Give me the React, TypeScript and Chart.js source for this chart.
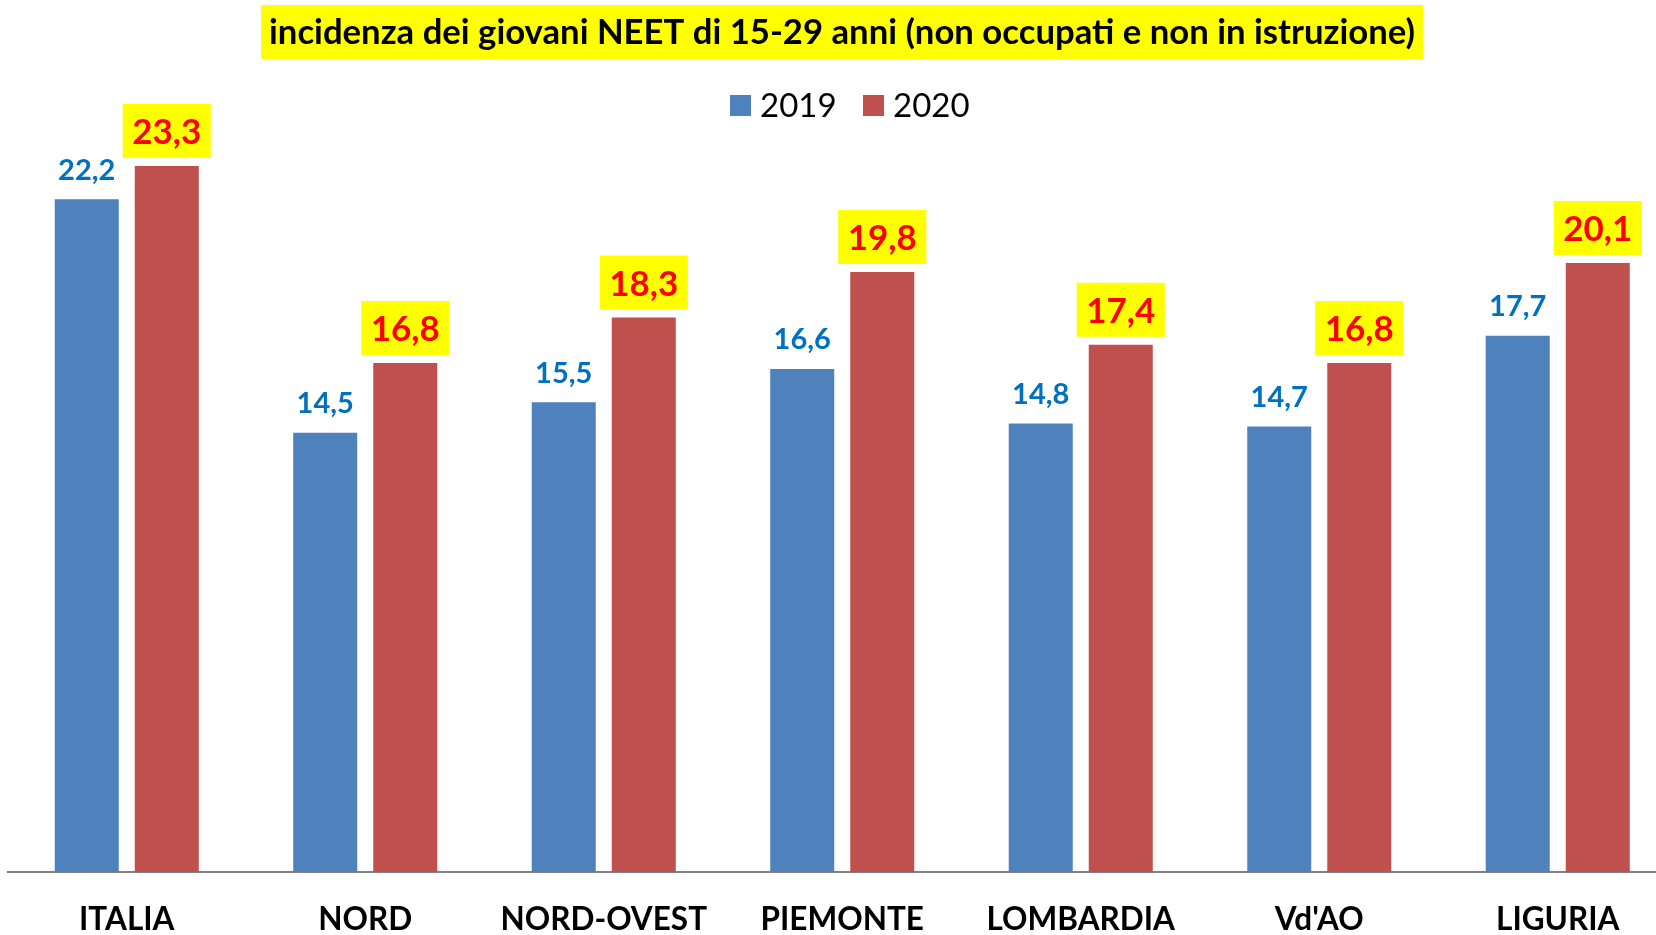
import React, { useEffect, useRef } from "react";
import { Chart, registerables } from "chart.js";

Chart.register(...registerables);

const categories = ["ITALIA", "NORD", "NORD-OVEST", "PIEMONTE", "LOMBARDIA", "Vd'AO", "LIGURIA"];
const values2019 = [22.2, 14.5, 15.5, 16.6, 14.8, 14.7, 17.7];
const values2020 = [23.3, 16.8, 18.3, 19.8, 17.4, 16.8, 20.1];
const seriesNames = ["2019", "2020"];
const titleText = "incidenza dei giovani NEET di 15-29 anni (non occupati e non in istruzione)";

const BLUE = "#4F81BD";
const RED = "#C0504D";
const FONT = "Lato, 'Open Sans', sans-serif";

const fmt = (v: number) => v.toFixed(1).replace(".", ",");

const overlayPlugin = {
  id: "overlay",
  afterDatasetsDraw(chart: any) {
    const ctx = chart.ctx;
    ctx.save();
    ctx.textAlign = "center";
    ctx.textBaseline = "middle";
    // 2019 labels
    const m0 = chart.getDatasetMeta(0);
    ctx.font = `bold 29px ${FONT}`;
    ctx.fillStyle = "#0070C0";
    m0.data.forEach((bar: any, i: number) => {
      ctx.fillText(fmt(values2019[i]), bar.x, bar.y - 29);
    });
    // 2020 labels with yellow box
    const m1 = chart.getDatasetMeta(1);
    ctx.font = `bold 35px ${FONT}`;
    m1.data.forEach((bar: any, i: number) => {
      const t = fmt(values2020[i]);
      const w = ctx.measureText(t).width + 19;
      const h = 54;
      const by = bar.y - 8 - h;
      ctx.fillStyle = "#FFFF00";
      ctx.fillRect(bar.x - w / 2, by, w, h);
      ctx.fillStyle = "#FF0000";
      ctx.fillText(t, bar.x, by + h / 2 + 2);
    });
    ctx.restore();
  },
  afterDraw(chart: any) {
    const ctx = chart.ctx;
    ctx.save();
    ctx.textBaseline = "middle";
    // title
    ctx.font = `bold 34.7px ${FONT}`;
    const cx = 842;
    ctx.fillStyle = "#FFFF00";
    ctx.fillRect(261, 5, 1423 - 261, 54);
    ctx.fillStyle = "#000000";
    ctx.textAlign = "center";
    ctx.fillText(titleText, cx, 33);
    // legend
    ctx.font = `33px ${FONT}`;
    ctx.textAlign = "left";
    const colors = [BLUE, RED];
    const lx = [730, 863];
    seriesNames.forEach((n, i) => {
      ctx.fillStyle = colors[i];
      ctx.fillRect(lx[i], 95, 21, 21);
      ctx.fillStyle = "#000000";
      ctx.fillText(n, lx[i] + 30, 106);
    });
    // category labels
    ctx.font = `bold 31.5px ${FONT}`;
    ctx.textAlign = "center";
    const xs = chart.scales.x;
    categories.forEach((c, i) => {
      ctx.fillText(c, xs.getPixelForValue(i), 920);
    });
    ctx.restore();
  },
};

export default function App() {
  const ref = useRef<HTMLCanvasElement | null>(null);
  useEffect(() => {
    if (!ref.current) return;
    const chart = new Chart(ref.current, {
      type: "bar",
      data: {
        labels: categories,
        datasets: [
          { label: seriesNames[0], data: values2019, backgroundColor: BLUE, borderWidth: 0 },
          { label: seriesNames[1], data: values2020, backgroundColor: RED, borderWidth: 0 },
        ],
      },
      options: {
        responsive: false,
        animation: false,
        devicePixelRatio: 1,
        layout: { padding: { top: 114.5, bottom: 63, left: 7.5, right: 0 } },
        datasets: { bar: { categoryPercentage: 0.671, barPercentage: 0.8 } },
        plugins: { legend: { display: false }, title: { display: false }, tooltip: { enabled: false } },
        scales: {
          x: {
            display: true,
            grid: { display: false, drawTicks: false, tickLength: 0 },
            ticks: { display: false },
            border: { display: true, color: "#808080", width: 2 },
          },
          y: { display: false, min: 0, max: 25 },
        },
      },
      plugins: [overlayPlugin],
    });
    return () => chart.destroy();
  }, []);
  return (
    <div style={{ position: "absolute", left: 0, top: 0, width: 1656, height: 935, overflow: "hidden", background: "#fff" }}>
      <canvas ref={ref} width={1677} height={935} />
    </div>
  );
}
